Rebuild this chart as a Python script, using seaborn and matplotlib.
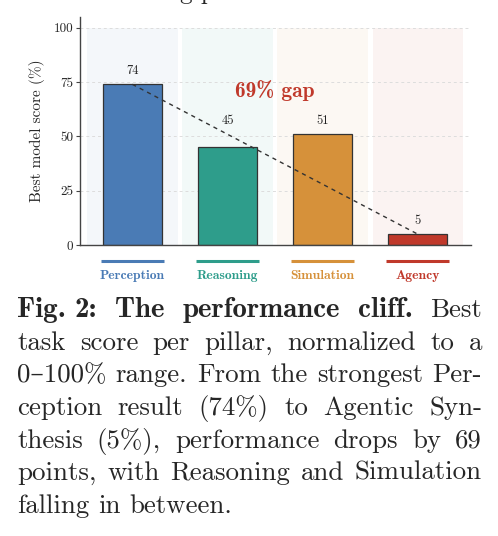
import matplotlib
matplotlib.use("Agg")
import matplotlib.pyplot as plt
import matplotlib.transforms as mtransforms
import pandas as pd
import seaborn as sns

pillars = ["Perception", "Reasoning", "Simulation", "Agency"]
scores = [74, 45, 51, 5]
colors = ["#4a7bb5", "#2e9d8b", "#d6913a", "#c0392b"]
gap_label = "69% gap"
y_ticks = [0, 25, 50, 75, 100]

caption_lines = [
    "task score per pillar, normalized to a",
    "0\u2013100% range. From the strongest Per-",
    "ception result (74%) to Agentic Syn-",
    "thesis (5%), performance drops by 69",
    "points, with Reasoning and Simulation",
]
caption_head_bold = ["Fig.", "2:", "The", "performance", "cliff."]
caption_head_rest = ["Best"]
caption_last = "falling in between."

W, H = 498, 536
sns.set_style("ticks")
plt.rcParams["font.family"] = ["cmr10", "DejaVu Serif"]
plt.rcParams["axes.formatter.use_mathtext"] = True
plt.rcParams["axes.unicode_minus"] = False

fig = plt.figure(figsize=(W / 100, H / 100), dpi=100)
ax = fig.add_axes([80 / W, 1 - 245 / H, 391 / W, 228 / H])

df = pd.DataFrame({"pillar": pillars, "score": scores})

# light background band per pillar
ax.bar(range(len(pillars)), [100] * len(pillars), width=0.95, color=colors,
       alpha=0.06, linewidth=0, zorder=0)
sns.barplot(data=df, x="pillar", y="score", hue="pillar", palette=colors,
            width=0.62, edgecolor="#333333", linewidth=0.9, saturation=1,
            legend=False, ax=ax, zorder=2)

# dashed drop line from first to last pillar
n = len(scores)
slope = (scores[-1] - scores[0]) / (n - 1)
ax.plot([0, n - 1], [scores[0], scores[-1]], color="#333333", lw=1.0,
        dashes=(3, 3), zorder=4)

for i, s in enumerate(scores):
    line_y = scores[0] + slope * i
    base = max(s, line_y) if 0 < i < n - 1 else s
    ax.text(i, base + 3.3, str(s), ha="center", va="bottom", fontsize=9, color="#222222")

ax.text(1.5, 68, gap_label, ha="center", va="baseline", fontsize=15.5,
        family=["cmb10", "DejaVu Serif"], color=colors[-1], zorder=5)

ax.set_ylim(0, 105)
ax.set_xlim(-0.55, 3.56)
ax.set_yticks(y_ticks)
ax.set_yticklabels([str(t) for t in y_ticks], fontsize=9.5)
ax.yaxis.grid(True, linestyle=(0, (3, 3)), color="#dddddd", lw=0.7)
ax.set_axisbelow(True)
ax.set_ylabel("Best model score (%)", fontsize=11, labelpad=6)
ax.set_xlabel("")
ax.set_xticks([])
sns.despine(ax=ax)
for sp in ["left", "bottom"]:
    ax.spines[sp].set_color("#444444")
    ax.spines[sp].set_linewidth(1.0)
ax.tick_params(axis="y", length=3, color="#444444", pad=2)

# coloured pillar markers under the axis
trans = mtransforms.blended_transform_factory(ax.transData, ax.transAxes)
for i, (p, c) in enumerate(zip(pillars, colors)):
    ax.plot([i - 0.33, i + 0.33], [-0.07, -0.07], color=c, lw=2.2,
            transform=trans, clip_on=False, solid_capstyle="butt")
    ax.text(i, -0.135, p, ha="center", va="center", fontsize=9.8, color=c,
            family=["cmb10", "DejaVu Serif"], transform=trans)

# clipped line of text from above the figure
fig.text(197 / W, 1 + 1 / H, "g p", ha="center", va="baseline", fontsize=18)

renderer = fig.canvas.get_renderer()
left_px, right_px = 17, 482
fs = 19.4
bold_fs = 20.8


def place_words(words, styles, y_px, justify=True, gap_weights=None):
    texts = []
    for w, (fam, size) in zip(words, styles):
        t = fig.text(0, 1 - y_px / H, w, fontsize=size, family=fam, va="baseline", ha="left")
        texts.append(t)
    widths = [t.get_window_extent(renderer).width for t in texts]
    if gap_weights is None:
        gap_weights = [1.0] * (len(texts) - 1)
    if justify and len(texts) > 1:
        unit = (right_px - left_px - sum(widths)) / sum(gap_weights)
    else:
        unit = fs * 100 / 72 * 0.333
    x = left_px
    for k, (t, wd) in enumerate(zip(texts, widths)):
        t.set_x(x / W)
        if k < len(gap_weights):
            x += wd + unit * gap_weights[k]


reg = (["cmr10", "DejaVu Serif"], fs)
bold = (["cmb10", "DejaVu Serif"], bold_fs)
baselines = [317, 350, 382, 415, 448, 480, 513]
head = caption_head_bold + caption_head_rest
place_words(head, [bold] * len(caption_head_bold) + [reg] * len(caption_head_rest),
            baselines[0], gap_weights=[0.5] + [1.0] * (len(head) - 2))
for line, yb in zip(caption_lines, baselines[1:6]):
    words = line.split(" ")
    place_words(words, [reg] * len(words), yb)
place_words(caption_last.split(" "), [reg] * 3, baselines[6], justify=False)

fig.savefig("out.png", dpi=100)
